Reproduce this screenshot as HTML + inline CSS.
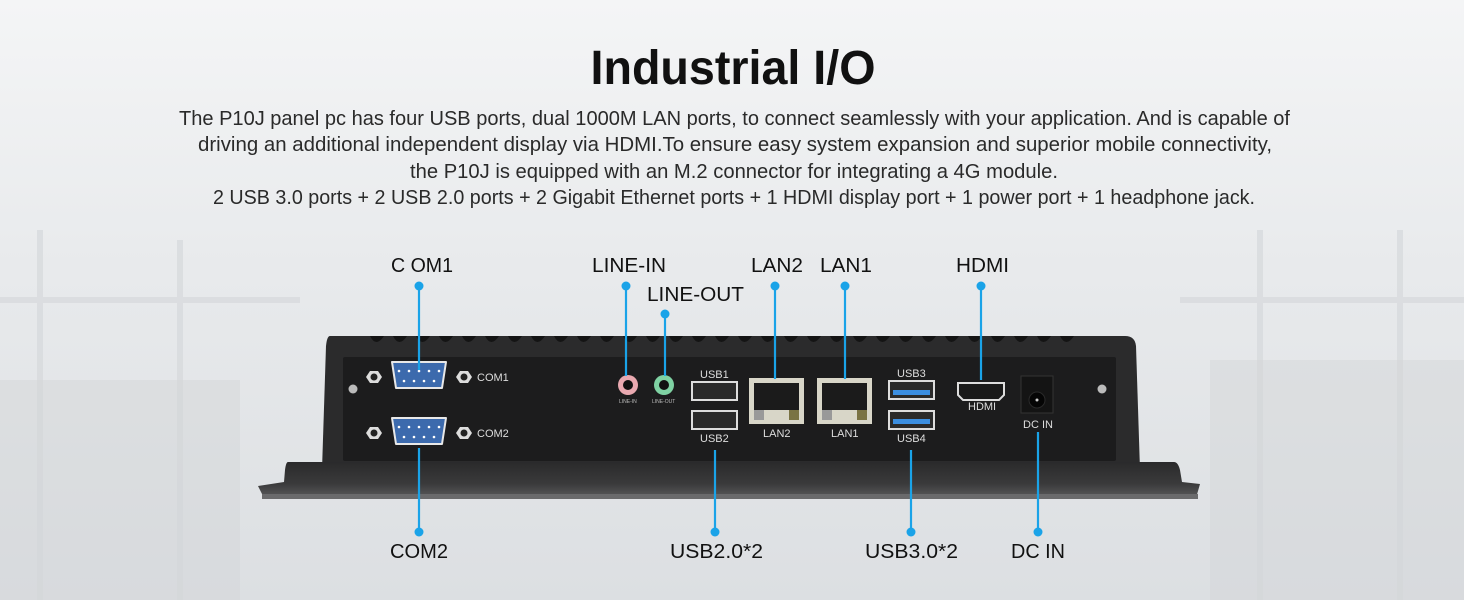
<!DOCTYPE html>
<html><head><meta charset="utf-8"><style>
html,body{margin:0;padding:0;width:1464px;height:600px;overflow:hidden;background:#e9ebed}
svg{display:block}
text{font-family:"Liberation Sans",sans-serif}
</style></head><body>
<svg width="1464" height="600" viewBox="0 0 1464 600" xmlns="http://www.w3.org/2000/svg">
<defs>
<linearGradient id="bg" x1="0" y1="0" x2="0" y2="1">
<stop offset="0" stop-color="#f4f5f6"/><stop offset="0.45" stop-color="#e8eaec"/><stop offset="1" stop-color="#dcdfe2"/>
</linearGradient>
<linearGradient id="flange" x1="0" y1="0" x2="0" y2="1">
<stop offset="0" stop-color="#2a2a2b"/><stop offset="0.6" stop-color="#3a3a3b"/><stop offset="1" stop-color="#5a5a5c"/>
</linearGradient>
</defs>
<rect width="1464" height="600" fill="url(#bg)"/>
<g stroke="#d6d9dc" stroke-width="6" opacity="0.7">
<line x1="40" y1="230" x2="40" y2="600"/><line x1="180" y1="240" x2="180" y2="600"/><line x1="1260" y1="230" x2="1260" y2="600"/><line x1="1400" y1="230" x2="1400" y2="600"/>
<line x1="0" y1="300" x2="300" y2="300"/><line x1="1180" y1="300" x2="1464" y2="300"/>
</g>
<rect x="0" y="380" width="240" height="220" fill="#d2d5d8" opacity="0.45"/>
<rect x="1210" y="360" width="254" height="240" fill="#d2d5d8" opacity="0.45"/>

<text x="733" y="84" text-anchor="middle" font-size="48" font-weight="bold" fill="#111" textLength="285" lengthAdjust="spacingAndGlyphs">Industrial I/O</text>
<g font-size="20" fill="#2a2a2a">
<text x="179" y="125" textLength="1111" lengthAdjust="spacingAndGlyphs">The P10J panel pc has four USB ports, dual 1000M LAN ports, to connect seamlessly with your application. And is capable of</text>
<text x="198" y="151" textLength="1074" lengthAdjust="spacingAndGlyphs">driving an additional independent display via HDMI.To ensure easy system expansion and superior mobile connectivity,</text>
<text x="410" y="178" textLength="648" lengthAdjust="spacingAndGlyphs">the P10J is equipped with an M.2 connector for integrating a 4G module.</text>
<text x="213" y="204" textLength="1042" lengthAdjust="spacingAndGlyphs">2 USB 3.0 ports + 2 USB 2.0 ports + 2 Gigabit Ethernet ports + 1 HDMI display port + 1 power port + 1 headphone jack.</text>
</g>

<path d="M330 336 L1125 336 Q1135 336 1136 346 L1140 470 L322 470 L326 346 Q327 336 330 336Z" fill="#2b2b2c"/>
<g fill="#141414">
<path d="M370 336 q6 12 14 0 z M393 336 q6 12 14 0z M416 336 q6 12 14 0z M439 336 q6 12 14 0z M462 336 q6 12 14 0z M485 336 q6 12 14 0z M508 336 q6 12 14 0z M531 336 q6 12 14 0z M554 336 q6 12 14 0z M577 336 q6 12 14 0z M600 336 q6 12 14 0z M623 336 q6 12 14 0z M646 336 q6 12 14 0z M669 336 q6 12 14 0z M692 336 q6 12 14 0z M715 336 q6 12 14 0z M738 336 q6 12 14 0z M761 336 q6 12 14 0z M784 336 q6 12 14 0z M807 336 q6 12 14 0z M830 336 q6 12 14 0z M853 336 q6 12 14 0z M876 336 q6 12 14 0z M899 336 q6 12 14 0z M922 336 q6 12 14 0z M945 336 q6 12 14 0z M968 336 q6 12 14 0z M991 336 q6 12 14 0z M1014 336 q6 12 14 0z M1037 336 q6 12 14 0z M1060 336 q6 12 14 0z"/>
</g>
<rect x="343" y="357" width="773" height="104" fill="#1c1c1d" rx="2"/>
<path d="M288 462 L1174 462 Q1178 462 1180 470 L1182 482 L1200 484 L1196 498 L264 498 L258 486 L284 482 L285 470 Q286 462 288 462Z" fill="url(#flange)"/>
<rect x="262" y="494" width="936" height="5" fill="#6a6a6c"/>

<circle cx="353" cy="389" r="4.5" fill="#bbb"/><circle cx="1102" cy="389" r="4.5" fill="#bbb"/>
<g>
<polygon points="366,377 370,371 378,371 382,377 378,383 370,383" fill="#ddd"/><circle cx="374" cy="377" r="3.5" fill="#222"/>
<polygon points="456,377 460,371 468,371 472,377 468,383 460,383" fill="#ddd"/><circle cx="464" cy="377" r="3.5" fill="#222"/>
<path d="M392 362 h54 l-4 26 h-46z" fill="#3c6aad" stroke="#e8e8e8" stroke-width="2" stroke-linejoin="round"/>
<polygon points="366,433 370,427 378,427 382,433 378,439 370,439" fill="#ddd"/><circle cx="374" cy="433" r="3.5" fill="#222"/>
<polygon points="456,433 460,427 468,427 472,433 468,439 460,439" fill="#ddd"/><circle cx="464" cy="433" r="3.5" fill="#222"/>
<path d="M392 418 h54 l-4 26 h-46z" fill="#3c6aad" stroke="#e8e8e8" stroke-width="2" stroke-linejoin="round"/>
<g fill="#fff"><circle cx="399" cy="371" r="1.3"/><circle cx="409" cy="371" r="1.3"/><circle cx="419" cy="371" r="1.3"/><circle cx="429" cy="371" r="1.3"/><circle cx="439" cy="371" r="1.3"/><circle cx="404" cy="381" r="1.3"/><circle cx="414" cy="381" r="1.3"/><circle cx="424" cy="381" r="1.3"/><circle cx="434" cy="381" r="1.3"/>
<circle cx="399" cy="427" r="1.3"/><circle cx="409" cy="427" r="1.3"/><circle cx="419" cy="427" r="1.3"/><circle cx="429" cy="427" r="1.3"/><circle cx="439" cy="427" r="1.3"/><circle cx="404" cy="437" r="1.3"/><circle cx="414" cy="437" r="1.3"/><circle cx="424" cy="437" r="1.3"/><circle cx="434" cy="437" r="1.3"/></g>
</g>
<g font-size="11" fill="#ddd"><text x="477" y="381">COM1</text><text x="477" y="437">COM2</text></g>
<circle cx="628" cy="385" r="10" fill="#e9a9b0"/><circle cx="628" cy="385" r="5" fill="#111"/>
<circle cx="664" cy="385" r="10" fill="#7fd2a3"/><circle cx="664" cy="385" r="5" fill="#111"/>
<g font-size="5" fill="#bbb"><text x="619" y="403">LINE-IN</text><text x="652" y="403">LINE-OUT</text></g>
<rect x="692" y="382" width="45" height="18" fill="#2a2a2a" stroke="#ddd" stroke-width="2"/>
<rect x="692" y="411" width="45" height="18" fill="#2a2a2a" stroke="#ddd" stroke-width="2"/>
<g font-size="11" fill="#ddd"><text x="700" y="378">USB1</text><text x="700" y="442">USB2</text></g>
<g>
<rect x="749" y="378" width="55" height="46" fill="#d8d6c8"/><rect x="754" y="383" width="45" height="27" fill="#1b1b1b"/>
<rect x="754" y="410" width="10" height="10" fill="#999"/><rect x="789" y="410" width="10" height="10" fill="#7a7344"/>
<rect x="817" y="378" width="55" height="46" fill="#d8d6c8"/><rect x="822" y="383" width="45" height="27" fill="#1b1b1b"/>
<rect x="822" y="410" width="10" height="10" fill="#999"/><rect x="857" y="410" width="10" height="10" fill="#7a7344"/>
</g>
<g font-size="11" fill="#ddd"><text x="763" y="437">LAN2</text><text x="831" y="437">LAN1</text></g>
<rect x="889" y="381" width="45" height="18" fill="#2a2a2a" stroke="#ddd" stroke-width="2"/><rect x="893" y="390" width="37" height="5" fill="#3b8ee0"/>
<rect x="889" y="411" width="45" height="18" fill="#2a2a2a" stroke="#ddd" stroke-width="2"/><rect x="893" y="419" width="37" height="5" fill="#3b8ee0"/>
<g font-size="11" fill="#ddd"><text x="897" y="377">USB3</text><text x="897" y="442">USB4</text></g>
<path d="M958 383 h46 v12 l-5 5 h-36 l-5 -5z" fill="#1a1a1a" stroke="#ddd" stroke-width="2"/>
<text x="968" y="410" font-size="11" fill="#ddd">HDMI</text>
<rect x="1021" y="376" width="32" height="37" fill="#141414" stroke="#333"/><circle cx="1037" cy="400" r="8" fill="#050505" stroke="#2a2a2a"/><circle cx="1037" cy="400" r="1.5" fill="#ccc"/>
<text x="1023" y="428" font-size="11" fill="#ddd">DC IN</text>

<g stroke="#1aa3e8" stroke-width="2.2">
<line x1="419" y1="286" x2="419" y2="370"/>
<line x1="626" y1="286" x2="626" y2="376"/>
<line x1="665" y1="314" x2="665" y2="376"/>
<line x1="775" y1="286" x2="775" y2="379"/>
<line x1="845" y1="286" x2="845" y2="379"/>
<line x1="981" y1="286" x2="981" y2="380"/>
<line x1="419" y1="448" x2="419" y2="532"/>
<line x1="715" y1="450" x2="715" y2="532"/>
<line x1="911" y1="450" x2="911" y2="532"/>
<line x1="1038" y1="432" x2="1038" y2="532"/>
</g>
<g fill="#1aa3e8">
<circle cx="419" cy="286" r="4.5"/><circle cx="626" cy="286" r="4.5"/><circle cx="665" cy="314" r="4.5"/><circle cx="775" cy="286" r="4.5"/><circle cx="845" cy="286" r="4.5"/><circle cx="981" cy="286" r="4.5"/>
<circle cx="419" cy="532" r="4.5"/><circle cx="715" cy="532" r="4.5"/><circle cx="911" cy="532" r="4.5"/><circle cx="1038" cy="532" r="4.5"/>
</g>
<g font-size="20" fill="#111">
<text x="391" y="272" textLength="62" lengthAdjust="spacingAndGlyphs">C OM1</text>
<text x="592" y="272" textLength="74" lengthAdjust="spacingAndGlyphs">LINE-IN</text>
<text x="647" y="301" textLength="97" lengthAdjust="spacingAndGlyphs">LINE-OUT</text>
<text x="751" y="272" textLength="52" lengthAdjust="spacingAndGlyphs">LAN2</text>
<text x="820" y="272" textLength="52" lengthAdjust="spacingAndGlyphs">LAN1</text>
<text x="956" y="272" textLength="53" lengthAdjust="spacingAndGlyphs">HDMI</text>
<text x="390" y="558" textLength="58" lengthAdjust="spacingAndGlyphs">COM2</text>
<text x="670" y="558" textLength="93" lengthAdjust="spacingAndGlyphs">USB2.0*2</text>
<text x="865" y="558" textLength="93" lengthAdjust="spacingAndGlyphs">USB3.0*2</text>
<text x="1011" y="558" textLength="54" lengthAdjust="spacingAndGlyphs">DC IN</text>
</g>
</svg>
</body></html>
